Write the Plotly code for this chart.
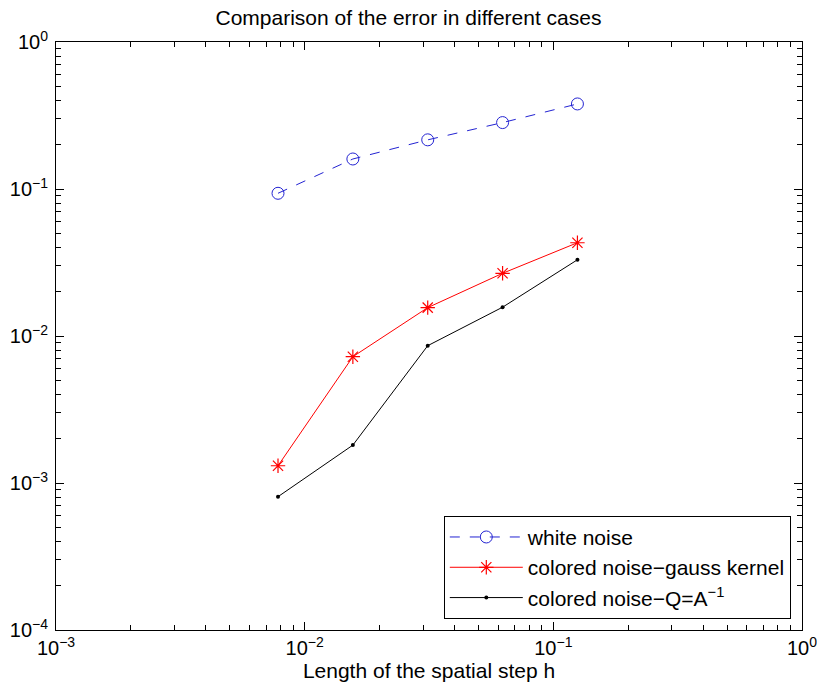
import plotly.graph_objects as go

# spatial step sizes h = 1/128 ... 1/8
h = [1/128, 1/64, 1/32, 1/16, 1/8]

err_white = [0.0935, 0.160, 0.216, 0.283, 0.379]
err_gauss = [0.00131, 0.00723, 0.0156, 0.0267, 0.0431]
err_qainv = [0.000807, 0.00181, 0.00859, 0.0157, 0.0330]

x_tickvals = [1e-3, 1e-2, 1e-1, 1e0]
x_ticktext = ["10<sup>−3</sup>", "10<sup>−2</sup>", "10<sup>−1</sup>", "10<sup>0</sup>"]
y_tickvals = [1e-4, 1e-3, 1e-2, 1e-1, 1e0]
y_ticktext = ["10<sup>−4</sup>", "10<sup>−3</sup>", "10<sup>−2</sup>", "10<sup>−1</sup>", "10<sup>0</sup>"]

# minor ticks at 2..9 within each decade
x_minor = [m * 10**e for e in range(-3, 0) for m in range(2, 10)]
y_minor = [m * 10**e for e in range(-4, 0) for m in range(2, 10)]

FONT = "Liberation Sans, Arial, Helvetica, sans-serif"
BLUE = "#2323d2"

fig = go.Figure()
fig.add_trace(go.Scatter(
    x=h, y=err_white, mode="lines+markers", name="white noise",
    line=dict(color=BLUE, width=1, dash="10px,10px"),
    marker=dict(symbol="circle-open", size=12, color=BLUE,
                line=dict(width=1, color=BLUE)),
))
fig.add_trace(go.Scatter(
    x=h, y=err_gauss, mode="lines+markers", name="colored noise−gauss kernel",
    line=dict(color="#ff0000", width=1),
    marker=dict(symbol="asterisk-open", size=12, color="#ff0000",
                line=dict(width=1.2, color="#ff0000")),
))
fig.add_trace(go.Scatter(
    x=h, y=err_qainv, mode="lines+markers", name="colored noise−Q=A<sup>−1</sup>",
    line=dict(color="#000000", width=1),
    marker=dict(symbol="circle", size=4, color="#000000"),
))

axis_common = dict(
    type="log", showgrid=False, zeroline=False, automargin=False,
    showline=True, linecolor="black", linewidth=1, mirror="allticks",
    ticks="inside", ticklen=8, tickcolor="black", tickwidth=1,
    tickmode="array", ticklabeloverflow="allow",
    tickfont=dict(family=FONT, size=20, color="black"),
)

fig.update_layout(
    width=817, height=693,
    margin=dict(l=56, r=15, t=42, b=63),
    paper_bgcolor="white", plot_bgcolor="white",
    font=dict(family=FONT, color="black"),
    title=dict(text="Comparison of the error in different cases",
               x=0.5, xanchor="center", y=0.975, yanchor="middle",
               font=dict(family=FONT, size=21, color="black")),
    xaxis=dict(
        **axis_common, range=[-3, 0],
        tickvals=x_tickvals, ticktext=x_ticktext,
        minor=dict(tickmode="array", tickvals=x_minor, ticks="inside",
                   ticklen=5, tickcolor="black", tickwidth=1),
        title=dict(text="Length of the spatial step h", standoff=4,
                   font=dict(family=FONT, size=21, color="black")),
    ),
    yaxis=dict(
        **axis_common, range=[-4, 0], ticklabelstandoff=3,
        tickvals=y_tickvals, ticktext=y_ticktext,
        minor=dict(tickmode="array", tickvals=y_minor, ticks="inside",
                   ticklen=5, tickcolor="black", tickwidth=1),
    ),
    legend=dict(
        x=0.985, y=0.019, xanchor="right", yanchor="bottom",
        bgcolor="white", bordercolor="black", borderwidth=1,
        font=dict(family=FONT, size=21, color="black"),
        tracegroupgap=0, itemwidth=73,
    ),
    showlegend=True,
)

fig.write_html("out.html")
